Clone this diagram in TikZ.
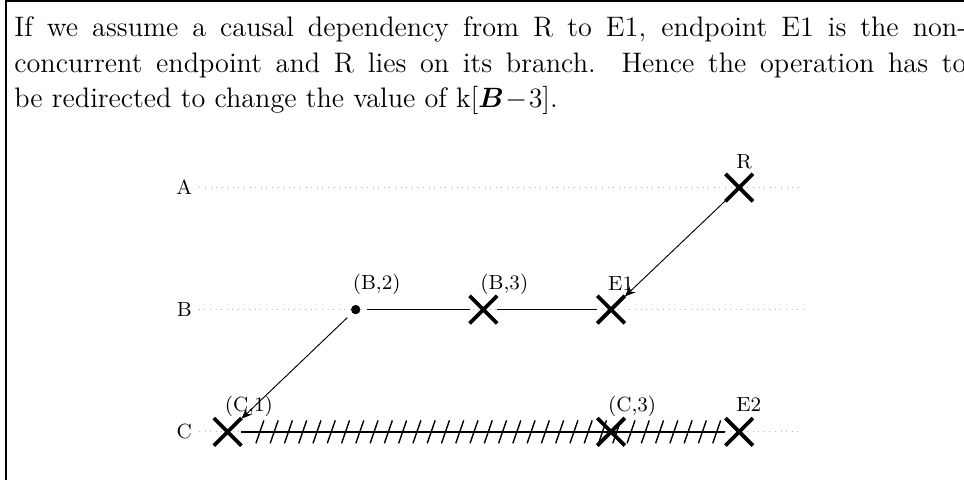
\documentclass[tikz,border=0pt]{standalone}
\usepackage{amsmath}
\usetikzlibrary{calc,shapes.misc,positioning,arrows.meta}

\begin{document}
\begin{tikzpicture}[
  lane/.style={font=\fontsize{8.8}{10.5}\selectfont, inner sep=0pt},
  laneline/.style={dotted, gray!60, thin},
  evt/.style={draw, cross out, ultra thick, minimum size=0.36cm, inner sep=0pt},
  evdot/.style={circle, fill, inner sep=0pt, minimum size=4pt, outer sep=3pt},
  lbl/.style={font=\fontsize{8.8}{10.5}\selectfont, inner sep=0pt, anchor=base west},
  ln/.style={semithick},
  ar/.style={-{Stealth[length=1.6mm, width=1.3mm]}, thin}
]

  \useasboundingbox (0,0) rectangle (14.54,7.23);
  \clip (0,0) rectangle (14.54,7.23);

  % frame round text and picture
  \draw[line width=0.8pt] (0.09,-0.5) |- (15.2,7.22);

  \node[anchor=base west, text width=14.36cm, align=justify, inner sep=0pt,
        font=\fontsize{12.1}{15.3}\selectfont] (txt) at (0.21, 6.68)
       {If we assume a causal dependency from R to E1, endpoint E1 is the
        non-concurrent endpoint and R lies on its branch. Hence the operation
        has to\linebreak be redirected to change the value of k[$\boldsymbol{B}\!-\!3$].};

  % lanes
  \node[lane] (A) at (2.78, 4.40) {A};
  \node[lane] (B) at (2.78, 2.56) {B};
  \node[lane] (C) at (2.78, 0.716) {C};
  \coordinate (Aend) at (12.11, 4.40);
  \coordinate (Bend) at (12.11, 2.56);
  \coordinate (Cend) at (12.11, 0.716);
  \draw[laneline] (A.east) ++(0.1,0) -- (Aend);
  \draw[laneline] (B.east) ++(0.1,0) -- (Bend);
  \draw[laneline] (C.east) ++(0.1,0) -- (Cend);

  % events
  \node[evt]   (R)  at (11.15, 4.40) {};
  \node[evdot] (b2) at (5.365, 2.56) {};
  \node[evt]   (b3) at (7.29, 2.56) {};
  \node[evt]   (e1) at (9.216, 2.56) {};
  \node[evt]   (c1) at (3.434, 0.716) {};
  \node[evt]   (c3) at (9.216, 0.716) {};
  \node[evt]   (e2) at (11.15, 0.716) {};

  \node[lbl] (lR)  at ($(R)+(-0.05,0.29)$)  {R};
  \node[lbl] (lb2) at ($(b2)+(-0.05,0.30)$) {(B,2)};
  \node[lbl] (lb3) at ($(b3)+(-0.05,0.30)$) {(B,3)};
  \node[lbl] (le1) at ($(e1)+(-0.05,0.29)$) {E1};
  \node[lbl] (lc1) at ($(c1)+(-0.05,0.31)$) {(C,1)};
  \node[lbl] (lc3) at ($(c3)+(-0.05,0.31)$) {(C,3)};
  \node[lbl] (le2) at ($(e2)+(-0.05,0.31)$) {E2};

  \draw[ln] (b2) -- (b3);
  \draw[ln] (b3) -- (e1);
  \draw[ar] (R) -- (e1);
  \draw[ar] (b2) -- (c1);

  % hatched branch on C
  \draw[ln] (c1) -- (e2);
  \foreach \i in {0,...,32}
    \draw[ln] ($(3.92,0.716)+(\i*0.2153,0)+(-0.06,-0.173)$) -- ++(0.12,0.346);

\end{tikzpicture}
\end{document}
